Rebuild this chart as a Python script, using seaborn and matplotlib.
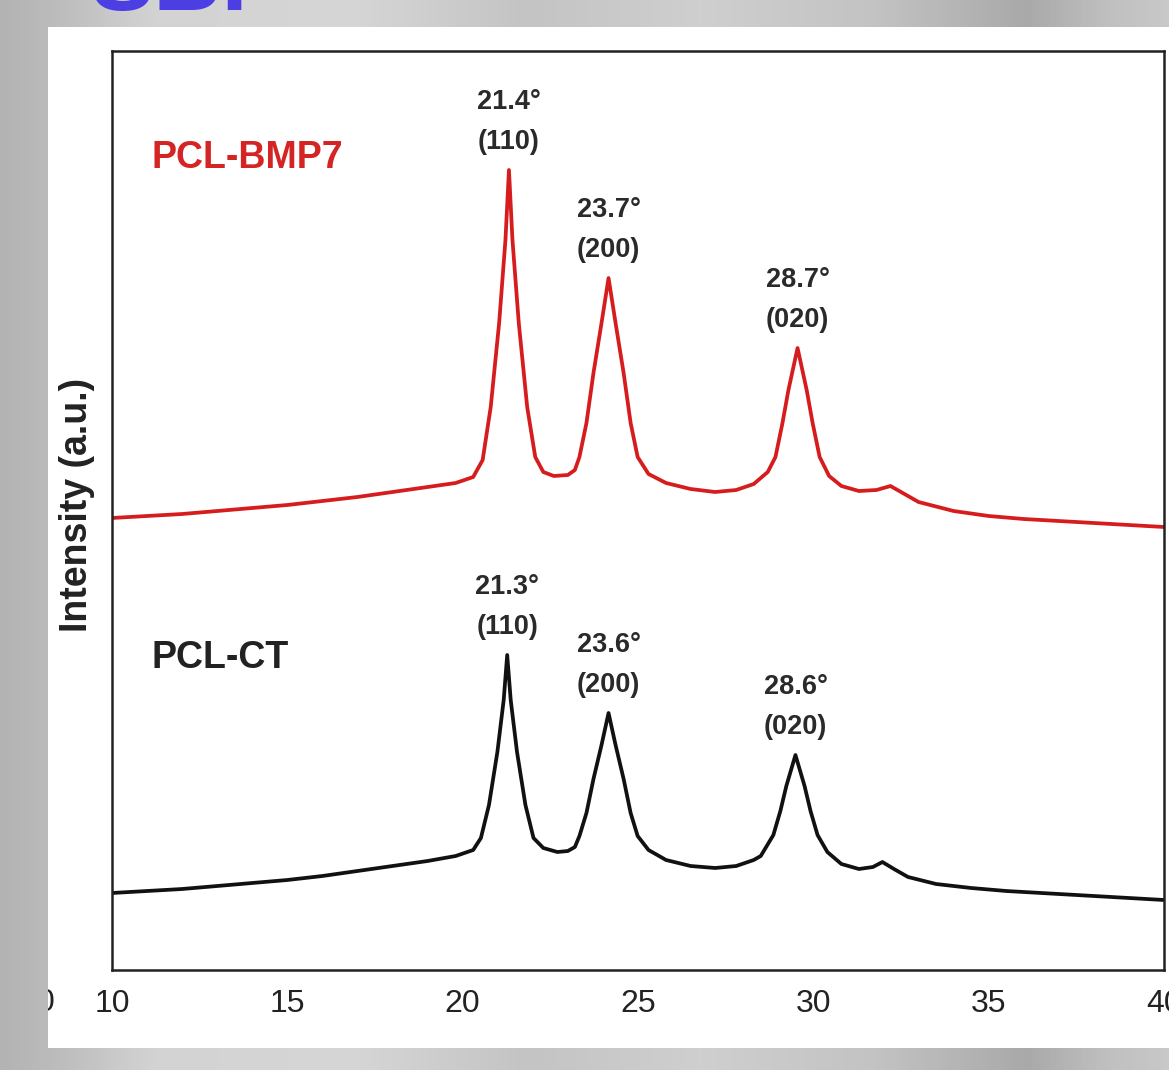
import numpy as np
import pandas as pd
import matplotlib
matplotlib.use('Agg')
import matplotlib.pyplot as plt
import seaborn as sns
from matplotlib import font_manager
from matplotlib.patches import Rectangle
from matplotlib.colors import LinearSegmentedColormap
from matplotlib.transforms import Bbox, TransformedBbox


# XRD patterns: 2-theta (deg) and intensity (a.u.)
tt_bmp7 = [10.0, 11.0, 12.0, 13.0, 14.0, 15.0, 16.0, 17.0, 18.0, 19.0, 19.8, 20.3,
           20.57, 20.8, 21.04, 21.22, 21.32, 21.42, 21.60, 21.84, 22.07, 22.3, 22.6,
           23.0, 23.2, 23.33, 23.53, 23.73, 23.96, 24.16, 24.36, 24.59, 24.79, 24.99,
           25.3, 25.8, 26.5, 27.2, 27.8, 28.3, 28.7, 28.92, 29.12, 29.29, 29.55, 29.81,
           29.98, 30.18, 30.45, 30.8, 31.3, 31.8, 32.2, 32.6, 33.0, 34.0, 35.0, 36.0,
           37.0, 38.0, 39.0, 40.0]
int_bmp7 = [452, 454, 456, 459, 462, 465, 469, 473, 478, 483, 487, 493,
            510, 563, 647, 730, 800, 730, 647, 563, 513, 498, 494,
            495, 500, 513, 547, 597, 647, 692, 647, 597, 547, 513,
            496, 487, 481, 478, 480, 486, 498, 513, 547, 580, 622, 580,
            547, 513, 494, 484, 479, 480, 484, 476, 468, 459, 454, 451,
            449, 447, 445, 443]

tt_ct = [10.0, 12.0, 14.0, 15.0, 16.0, 17.0, 18.0, 19.0, 19.8, 20.3, 20.52, 20.75,
         20.99, 21.17, 21.27, 21.37, 21.55, 21.79, 22.02, 22.3, 22.7, 23.0, 23.2,
         23.33, 23.53, 23.73, 23.96, 24.16, 24.36, 24.59, 24.79, 24.99, 25.3, 25.8,
         26.5, 27.2, 27.8, 28.3, 28.5, 28.86, 29.06, 29.23, 29.49, 29.75, 29.92, 30.12,
         30.4, 30.8, 31.3, 31.7, 31.97, 32.3, 32.7, 33.5, 34.5, 35.5, 36.5, 37.5,
         38.5, 40.0]
int_ct = [77, 81, 87, 90, 94, 99, 104, 109, 114, 120, 132, 165,
          218, 270, 315, 270, 218, 165, 132, 122, 118, 119, 123,
          134, 157, 191, 225, 257, 225, 191, 157, 134, 120, 110,
          104, 102, 104, 110, 114, 135, 159, 184, 215, 184, 159, 135,
          118, 106, 101, 103, 108, 101, 93, 86, 82, 79, 77, 75,
          73, 70]

samples = ['PCL-BMP7', 'PCL-CT']
sample_colors = ['#d61c1c', '#111111']
angles_bmp7 = ['21.4°', '23.7°', '28.7°']
angles_ct = ['21.3°', '23.6°', '28.6°']
planes = ['(110)', '(200)', '(020)']
peak_windows = [(20, 22.5), (23, 25.5), (28, 31)]
xticks = [10, 15, 20, 25, 30, 35, 40]

# long table for seaborn
df = pd.concat([
    pd.DataFrame({'two_theta': tt_bmp7, 'intensity': int_bmp7, 'sample': samples[0]}),
    pd.DataFrame({'two_theta': tt_ct, 'intensity': int_ct, 'sample': samples[1]}),
])

sns.set_style('white')
plt.rcParams['font.family'] = ['Liberation Sans', 'DejaVu Sans']
names = {f.name for f in font_manager.fontManager.ttflist}
if 'Liberation Sans Narrow' in names:
    tick_font, tick_size = 'Liberation Sans Narrow', 27
else:
    tick_font, tick_size = 'Liberation Sans', 23

W, H = 1169, 1070
fig = plt.figure(figsize=(W / 100, H / 100), dpi=100)

# grey metallic backdrop + white panel of the screenshot
bg = fig.add_axes([0, 0, 1, 1])
bg.set_zorder(-2)
bg.axis('off')
grey = LinearSegmentedColormap.from_list('grey', [
    (0.0, '#b3b3b3'), (0.05, '#bdbdbd'), (0.13, '#d3d3d3'), (0.3, '#d6d6d6'),
    (0.45, '#c4c4c4'), (0.6, '#cfcfcf'), (0.75, '#c3c3c3'), (0.88, '#a9a9a9'),
    (0.95, '#c0c0c0'), (1.0, '#c8c8c8')])
bg.imshow(np.linspace(0, 1, 256)[None, :], cmap=grey, aspect='auto',
          extent=[0, 1, 0, 1])
bg.set_xlim(0, 1)
bg.set_ylim(0, 1)
panel = Rectangle((48 / W, 1 - 1048 / H), 1.0, (1048 - 27) / H,
                  transform=bg.transAxes, facecolor='white', edgecolor='none')
bg.add_patch(panel)
# a tick label of the neighbouring panel, cut at the white edge
stray = bg.text(54 / W, 1 - 1003 / H, '0', ha='right', va='center',
                fontsize=tick_size, family=tick_font, color='#222222',
                transform=bg.transAxes)
stray.set_clip_box(TransformedBbox(Bbox([[48 / W, 0], [1, 1]]), bg.transAxes))
stray.set_clip_on(True)

fig.text(90 / W, 1 - 10 / H, 'SBF', color='#4b3fe3', fontsize=68,
         fontweight='bold', ha='left', va='baseline')

# main axes
ax = fig.add_axes([112 / W, 1 - 970 / H, (1164 - 112) / W, (970 - 51) / H])
sns.lineplot(data=df, x='two_theta', y='intensity', hue='sample',
             palette=dict(zip(samples, sample_colors)), estimator=None,
             sort=False, legend=False, linewidth=2.7, ax=ax)

ax.set_xlim(10, 40)
ax.set_ylim(0, 919)
ax.set_xticks(xticks)
ax.set_yticks([])
ax.tick_params(axis='x', direction='out', length=8.6, width=1.6, pad=5,
               labelsize=tick_size, colors='#222222')
for lab in ax.get_xticklabels():
    lab.set_family(tick_font)
for sp in ax.spines.values():
    sp.set_visible(True)
    sp.set_linewidth(1.8)
    sp.set_color('#222222')

ax.set_xlabel('')
ax.set_ylabel('Intensity (a.u.)', fontsize=27, fontweight='bold', color='#222222')
ax.yaxis.set_label_coords(-0.033, 0.506)
ax.yaxis.label.set_va('center')

# sample names
ax.text(11.12, 812, samples[0], color='#d42424', fontsize=27,
        fontweight='bold', ha='left', va='center')
ax.text(11.12, 312, samples[1], color='#222222', fontsize=27,
        fontweight='bold', ha='left', va='center')

# peak labels
for tt, inten, angles in [(tt_bmp7, int_bmp7, angles_bmp7), (tt_ct, int_ct, angles_ct)]:
    tt = np.array(tt)
    inten = np.array(inten)
    for (lo, hi), ang, pl in zip(peak_windows, angles, planes):
        m = (tt >= lo) & (tt <= hi)
        i = np.argmax(inten[m])
        px, py = tt[m][i], inten[m][i]
        ax.text(px, py + 28, pl, ha='center', va='center', fontsize=19.5,
                fontweight='bold', color='#2a2a2a')
        ax.text(px, py + 68, ang, ha='center', va='center', fontsize=19.5,
                fontweight='bold', color='#2a2a2a')

fig.savefig('out.png', dpi=100)
